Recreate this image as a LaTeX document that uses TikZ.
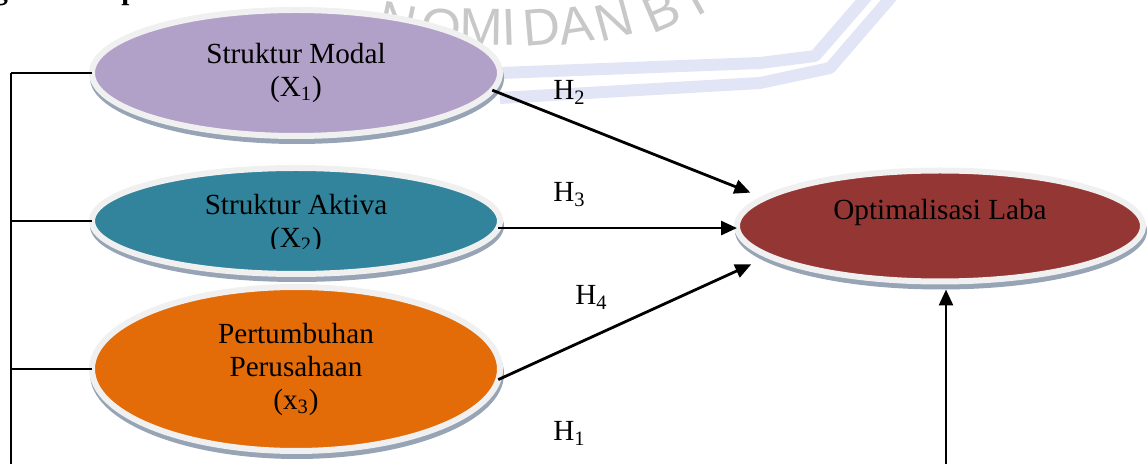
\documentclass[tikz,border=0pt]{standalone}
\usepackage{fontspec}
\setmainfont{Liberation Serif}
\newfontfamily\wmfont{Liberation Sans}
\usetikzlibrary{arrows.meta,calc,shapes.geometric}
\definecolor{cPurple}{HTML}{B1A0C7}
\definecolor{cTeal}{HTML}{31849B}
\definecolor{cOrange}{HTML}{E36C09}
\definecolor{cRed}{HTML}{943634}
\definecolor{cRim}{HTML}{F0F0F0}
\definecolor{cShadow}{HTML}{97A4B5}
\definecolor{cBand}{HTML}{E2E5F5}
\definecolor{cWm}{HTML}{C8C8C8}
\begin{document}
\begin{tikzpicture}[x=0.5pt,y=-0.5pt,
  bub/.style={ellipse, inner sep=0pt, outer sep=0pt, align=center, draw=cRim, line width=3pt,
     font=\fontsize{14.6}{16.5}\selectfont},
  shad/.style={fill=cShadow},
  txt/.style={inner sep=0pt, align=center, font=\fontsize{14.6}{16.5}\selectfont},
  lbl/.style={anchor=base west, inner sep=0pt, font=\fontsize{14.6}{16.5}\selectfont},
  arr/.style={line width=1.4pt, -{Triangle[length=8pt,width=7pt]}},
  brk/.style={line width=1pt},
  wm/.style={inner sep=0pt, text=cWm, font=\wmfont\fontsize{26}{26}\selectfont},
  band/.style={draw=cBand, line join=round}
]
\useasboundingbox (0,0) rectangle (1148,464);

% watermark
\draw[band, line width=6pt] (500,73) -- (760,63) -- (815,56) -- (868,-5);
\draw[band, line width=6pt] (500,98) -- (760,83) -- (830,68) -- (893,-5);
\node[wm, rotate=-12] (w1) at (398,22) {N};
\node[wm, rotate=-5] (w2) at (441,27) {O};
\node[wm, rotate=-1] (w3) at (481,27) {M};
\node[wm, rotate=2] (w4) at (509,27) {I};
\node[wm, rotate=5] (w5) at (542,27) {D};
\node[wm, rotate=9] (w6) at (576,25) {A};
\node[wm, rotate=15] (w7) at (614,20) {N};
\node[wm, rotate=23] (w8) at (661,11) {B};
\node[wm, rotate=29] (w9) at (694,-2) {I};

% heading fragment (cut at the top edge)
\begin{scope}
\clip (0,0) rectangle (1148,464);
\node[lbl, font=\bfseries\fontsize{14.6}{16.5}\selectfont] (hg) at (-7,0) {g};
\node[lbl, font=\bfseries\fontsize{14.6}{16.5}\selectfont] (hp) at (121,0) {p};
\end{scope}

% centres
\coordinate (c1) at (296,73);
\coordinate (c2) at (296,221);
\coordinate (c3) at (296,369);
\coordinate (c4) at (940,226);

% shadows
\fill[shad] ($(c1)+(1,5)$) ellipse [x radius=103.5pt, y radius=33pt];
\fill[shad] ($(c2)+(1,5)$) ellipse [x radius=103.5pt, y radius=28pt];
\fill[shad] ($(c3)+(1,5)$) ellipse [x radius=103.5pt, y radius=42.5pt];
\fill[shad] ($(c4)+(1,5)$) ellipse [x radius=103pt, y radius=29.25pt];

% ellipses
\node[bub, fill=cPurple, minimum width=204pt, minimum height=63pt] (m1) at (c1)
  {Struktur Modal\\(X\textsubscript{1})};
\node[bub, fill=cTeal, minimum width=204pt, minimum height=53pt] (m2) at (c2) {};
\node[bub, fill=cOrange, minimum width=204pt, minimum height=82pt] (m3) at (c3)
  {Pertumbuhan\\Perusahaan\\(x\textsubscript{3})};
\node[bub, fill=cRed, minimum width=203pt, minimum height=55.5pt] (m4) at (c4) {};

\begin{scope}
\clip (0,0) rectangle (1148,249);
\node[txt] (t2) at (296,224) {Struktur Aktiva\\(X\textsubscript{2})};
\end{scope}
\node[txt] (t4) at (940,212) {Optimalisasi Laba};

% left bracket
\coordinate (lb) at (11,464);
\draw[brk] (lb) -- (lb |- m1.west);
\draw[brk] (lb |- m1.west) -- (m1.west);
\draw[brk] (lb |- m2.west) -- (m2.west);
\draw[brk] (lb |- m3.west) -- (m3.west);

% arrows
\draw[arr, shorten >=7.5pt] (m1.-5) -- (m4.171);
\draw[arr] (m2.-2) -- (m2.-2 -| m4.west);
\draw[arr, shorten >=10pt] (m3.-3) -- (m4.190);
\coordinate (b1) at (946,464);
\draw[arr, shorten >=4pt] (b1) -- (b1 |- m4.south);

% hypothesis labels
\node[lbl] (h2) at (553,100) {H\textsubscript{2}};
\node[lbl] (h3) at (553,202) {H\textsubscript{3}};
\node[lbl] (h4) at (575,305) {H\textsubscript{4}};
\node[lbl] (h1) at (553,441) {H\textsubscript{1}};
\end{tikzpicture}
\end{document}
